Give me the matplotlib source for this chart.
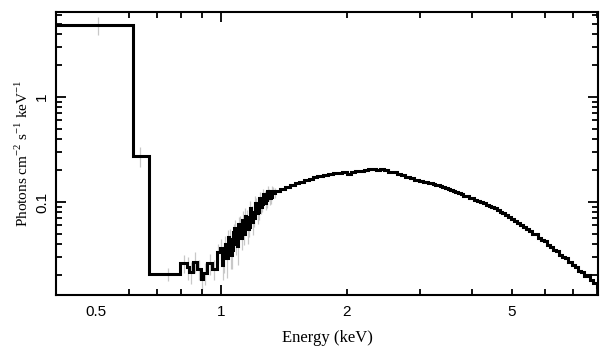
import numpy as np
import matplotlib
matplotlib.use('Agg')
import matplotlib.pyplot as plt
from matplotlib.ticker import FixedLocator, NullFormatter, FixedFormatter

plt.rcParams['mathtext.fontset'] = 'custom'
plt.rcParams['mathtext.rm'] = 'Liberation Serif'

# bin lower edges (keV) and unfolded flux (photons cm^-2 s^-1 keV^-1)
coarse_edges = [0.40, 0.614, 0.67]
coarse_flux = [4.85, 0.274, 0.0206]
coarse_err = [0.95, 0.06, 0.003]

low_edges = [0.797, 0.828, 0.837, 0.856, 0.875, 0.895, 0.905, 0.925, 0.951, 0.973]
low_flux = [0.026, 0.024, 0.0215, 0.027, 0.023, 0.0185, 0.021, 0.026, 0.023, 0.033]
low_err = [0.005, 0.006, 0.005, 0.006, 0.005, 0.004, 0.005, 0.006, 0.005, 0.007]

mid_edges = [0.994, 1.002, 1.010, 1.018, 1.026, 1.034, 1.042, 1.050, 1.058, 1.066,
             1.074, 1.082, 1.090, 1.098, 1.106, 1.114, 1.122, 1.130, 1.138, 1.146,
             1.154, 1.162, 1.170, 1.178, 1.186, 1.194, 1.202, 1.210, 1.218, 1.226,
             1.234, 1.242, 1.250, 1.258, 1.266, 1.274, 1.282, 1.290, 1.298, 1.306,
             1.314, 1.322, 1.330, 1.338]
mid_flux = [0.036, 0.025, 0.030, 0.040, 0.029, 0.046, 0.044, 0.031, 0.035, 0.052,
            0.056, 0.040, 0.038, 0.062, 0.060, 0.045, 0.068, 0.050, 0.074, 0.072,
            0.055, 0.058, 0.088, 0.080, 0.064, 0.070, 0.098, 0.095, 0.078, 0.080,
            0.108, 0.090, 0.096, 0.118, 0.112, 0.098, 0.104, 0.128, 0.118, 0.108,
            0.112, 0.128, 0.124, 0.122]
mid_err = [0.008, 0.007, 0.009, 0.007, 0.010, 0.008, 0.011, 0.008, 0.012, 0.009,
           0.012, 0.009, 0.013, 0.010, 0.014, 0.010, 0.014, 0.011, 0.014, 0.011,
           0.015, 0.012, 0.015, 0.012, 0.016, 0.012, 0.016, 0.013, 0.016, 0.013,
           0.016, 0.013, 0.016, 0.014, 0.016, 0.014, 0.016, 0.014, 0.016, 0.014,
           0.016, 0.014, 0.016, 0.014]

hi_edges = [1.346, 1.38, 1.42, 1.46, 1.50, 1.54, 1.58, 1.62, 1.66, 1.70,
            1.75, 1.80, 1.85, 1.90, 1.95, 2.00, 2.05, 2.10, 2.15, 2.20,
            2.25, 2.30, 2.35, 2.40, 2.46, 2.52, 2.58, 2.64, 2.70, 2.77,
            2.84, 2.91]
hi_flux = [0.128, 0.134, 0.140, 0.145, 0.150, 0.156, 0.162, 0.167, 0.172, 0.176,
           0.180, 0.184, 0.190, 0.190, 0.194, 0.186, 0.192, 0.196, 0.199, 0.202,
           0.204, 0.207, 0.203, 0.205, 0.200, 0.195, 0.192, 0.186, 0.180, 0.174,
           0.168, 0.163]

top_edges = [2.98, 3.02, 3.06, 3.10, 3.14, 3.18, 3.22, 3.26, 3.30, 3.35,
             3.40, 3.45, 3.50, 3.55, 3.60, 3.65, 3.70, 3.76, 3.82, 3.88,
             3.94, 4.00, 4.06, 4.12, 4.18, 4.25, 4.32, 4.39, 4.46, 4.53,
             4.60, 4.67, 4.74, 4.82, 4.90, 4.98, 5.06, 5.14, 5.22, 5.31,
             5.40, 5.49, 5.58, 5.67, 5.76, 5.86, 5.96, 6.06, 6.16, 6.27,
             6.38, 6.49, 6.60, 6.71, 6.83, 6.95, 7.07, 7.19, 7.32, 7.45,
             7.58, 7.71, 7.85, 7.99]
top_flux = [0.158, 0.157, 0.155, 0.154, 0.151, 0.150, 0.148, 0.146, 0.145, 0.142,
            0.140, 0.136, 0.134, 0.131, 0.128, 0.125, 0.121, 0.118, 0.115, 0.113,
            0.110, 0.108, 0.105, 0.101, 0.099, 0.097, 0.094, 0.092, 0.089, 0.087,
            0.084, 0.081, 0.078, 0.075, 0.072, 0.069, 0.066, 0.063, 0.060, 0.058,
            0.055, 0.053, 0.050, 0.049, 0.045, 0.043, 0.042, 0.039, 0.037, 0.035,
            0.034, 0.031, 0.030, 0.029, 0.027, 0.025, 0.024, 0.022, 0.0215, 0.0195,
            0.0200, 0.0180, 0.0170, 0.0155]
end_edge = 8.15

x_ticks_labeled = [0.5, 1, 2, 5]
x_tick_labels = ['0.5', '1', '2', '5']
x_minor = [0.4, 0.6, 0.7, 0.8, 0.9, 2, 3, 4, 5, 6, 7, 8]
y_ticks = [0.1, 1]
y_tick_labels = ['0.1', '1']
y_minor = [0.02, 0.03, 0.04, 0.05, 0.06, 0.07, 0.08, 0.09,
           0.2, 0.3, 0.4, 0.5, 0.6, 0.7, 0.8, 0.9, 2, 3, 4, 5, 6]

edges = np.array(coarse_edges + low_edges + mid_edges + hi_edges + top_edges + [end_edge])
flux = np.array(coarse_flux + low_flux + mid_flux + hi_flux + top_flux)
err = np.array(coarse_err + low_err + mid_err + [0.0] * (len(hi_flux) + len(top_flux)))
centers = np.sqrt(edges[:-1] * edges[1:])
# grey bars of the wide bins sit where the reference shows them
centers[0] = 0.505
centers[1] = 0.636
centers[2] = 0.745

fig = plt.figure(figsize=(6.09, 3.57), dpi=100)
ax = fig.add_axes([0.092, 0.174, 0.890, 0.792])

ax.vlines(centers[err > 0], (flux - err)[err > 0], (flux + err)[err > 0],
          color='#c8c8c8', lw=0.9, zorder=1)
ax.stairs(flux, edges, color='black', lw=2.2, zorder=2, baseline=None)

ax.set_xscale('log')
ax.set_yscale('log')
ax.set_xlim(0.40, 8.05)
ax.set_ylim(0.0130, 6.45)

ax.xaxis.set_major_locator(FixedLocator([1]))
ax.xaxis.set_major_formatter(NullFormatter())
ax.xaxis.set_minor_locator(FixedLocator(x_minor))
ax.xaxis.set_minor_formatter(NullFormatter())
for xv, lab in zip(x_ticks_labeled, x_tick_labels):
    ax.text(xv, -0.035, lab, transform=ax.get_xaxis_transform(), ha='center', va='top',
            fontsize=11, family='Liberation Sans')

ax.yaxis.set_major_locator(FixedLocator(y_ticks))
ax.yaxis.set_major_formatter(FixedFormatter(y_tick_labels))
ax.yaxis.set_minor_locator(FixedLocator(y_minor))
ax.yaxis.set_minor_formatter(NullFormatter())
for lab in ax.get_yticklabels():
    lab.set_rotation(90)
    lab.set_va('center')
    lab.set_family('Liberation Sans')
    lab.set_fontsize(11)

ax.tick_params(which='both', direction='in', top=True, right=True, width=1.3, pad=5)
ax.tick_params(which='major', length=7)
ax.tick_params(which='minor', length=4)
for s in ax.spines.values():
    s.set_linewidth(1.5)

ax.set_xlabel('Energy (keV)', family='Liberation Serif', fontsize=12, labelpad=20)
ax.set_ylabel(r'Photons cm$^{-2}$ s$^{-1}$ keV$^{-1}$', family='Liberation Serif',
              fontsize=11, labelpad=3)

plt.savefig('out.png', dpi=100)
